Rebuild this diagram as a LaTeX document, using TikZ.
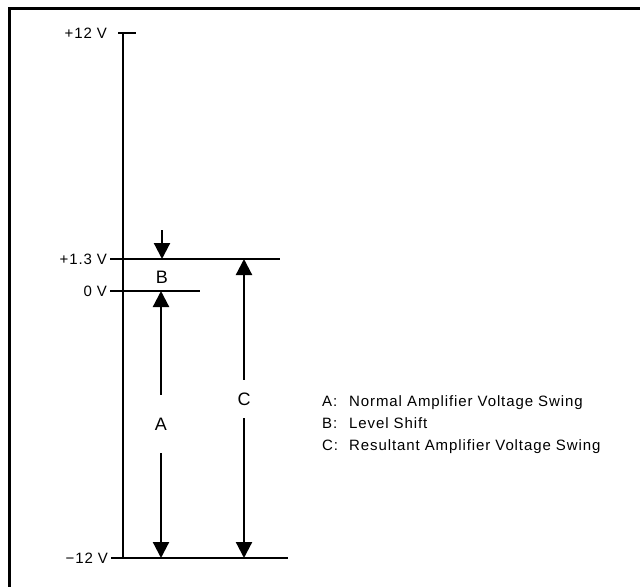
\documentclass[tikz,border=0pt]{standalone}
\usepackage{fontspec}
\setmainfont{Liberation Sans}[LetterSpace=6]
\usetikzlibrary{arrows.meta, positioning}

\begin{document}
\begin{tikzpicture}[x=1pt, y=-1pt,
  rail/.style={line width=2.2pt},
  swing/.style={line width=2.2pt, -{Triangle[length=16pt, width=16pt]}},
  lvl/.style={font=\fontsize{15}{17}\selectfont, anchor=east, inner sep=0pt, outer sep=3pt},
  tag/.style={font=\fontsize{18}{20}\selectfont, inner sep=0pt},
  key/.style={font=\fontsize{15}{22}\selectfont, align=left, anchor=west, inner sep=0pt},
]
  \useasboundingbox (0,0) rectangle (641,587);
  % frame (top and left edge only)
  \draw[line width=3pt] (9,587) -- (9,8) -- (640,8);

  % voltage levels on the rail
  \coordinate (p12) at (123,33);
  \coordinate (p13) at (123,259);
  \coordinate (zero) at (123,291);
  \coordinate (m12) at (123,558);
  \coordinate (p12end) at (136,33);
  \coordinate (p13end) at (280,259);
  \coordinate (zeroend) at (200,291);
  \coordinate (m12end) at (288,558);

  \node[lvl] (Lp12) at (110,33) {+12 V};
  \node[lvl] (Lp13) at (110,259) {+1.3 V};
  \node[lvl] (Lzero) at (110,291) {0 V};
  \node[lvl] (Lm12) at (111,558) {−12 V};

  \draw[rail] (p12) -- (m12);
  \draw[rail] ([xshift=-5pt]p12) -- (p12end);
  \draw[rail] (Lp13) -- (p13end);
  \draw[rail] (Lzero) -- (zeroend);
  \draw[rail] (Lm12) -- (m12end);

  % level shift
  \coordinate (Btop) at (162,230);
  \node[tag] (B) at (162,277) {B};
  \draw[swing] (Btop) -- (Btop |- p13);

  % swings
  \node[tag, minimum height=58pt] (A) at (161,424) {A};
  \draw[swing] (A.north) -- (A.north |- zero);
  \draw[swing] (A.south) -- (A.south |- m12);

  \node[tag, minimum height=38pt] (C) at (244,399) {C};
  \draw[swing] (C.north) -- (C.north |- p13);
  \draw[swing] (C.south) -- (C.south |- m12);

  % legend
  \node[key] (legend) at (322,425) {%
    \makebox[27pt][l]{A:}Normal Amplifier Voltage Swing\\
    \makebox[27pt][l]{B:}Level Shift\\
    \makebox[27pt][l]{C:}Resultant Amplifier Voltage Swing};
\end{tikzpicture}
\end{document}
